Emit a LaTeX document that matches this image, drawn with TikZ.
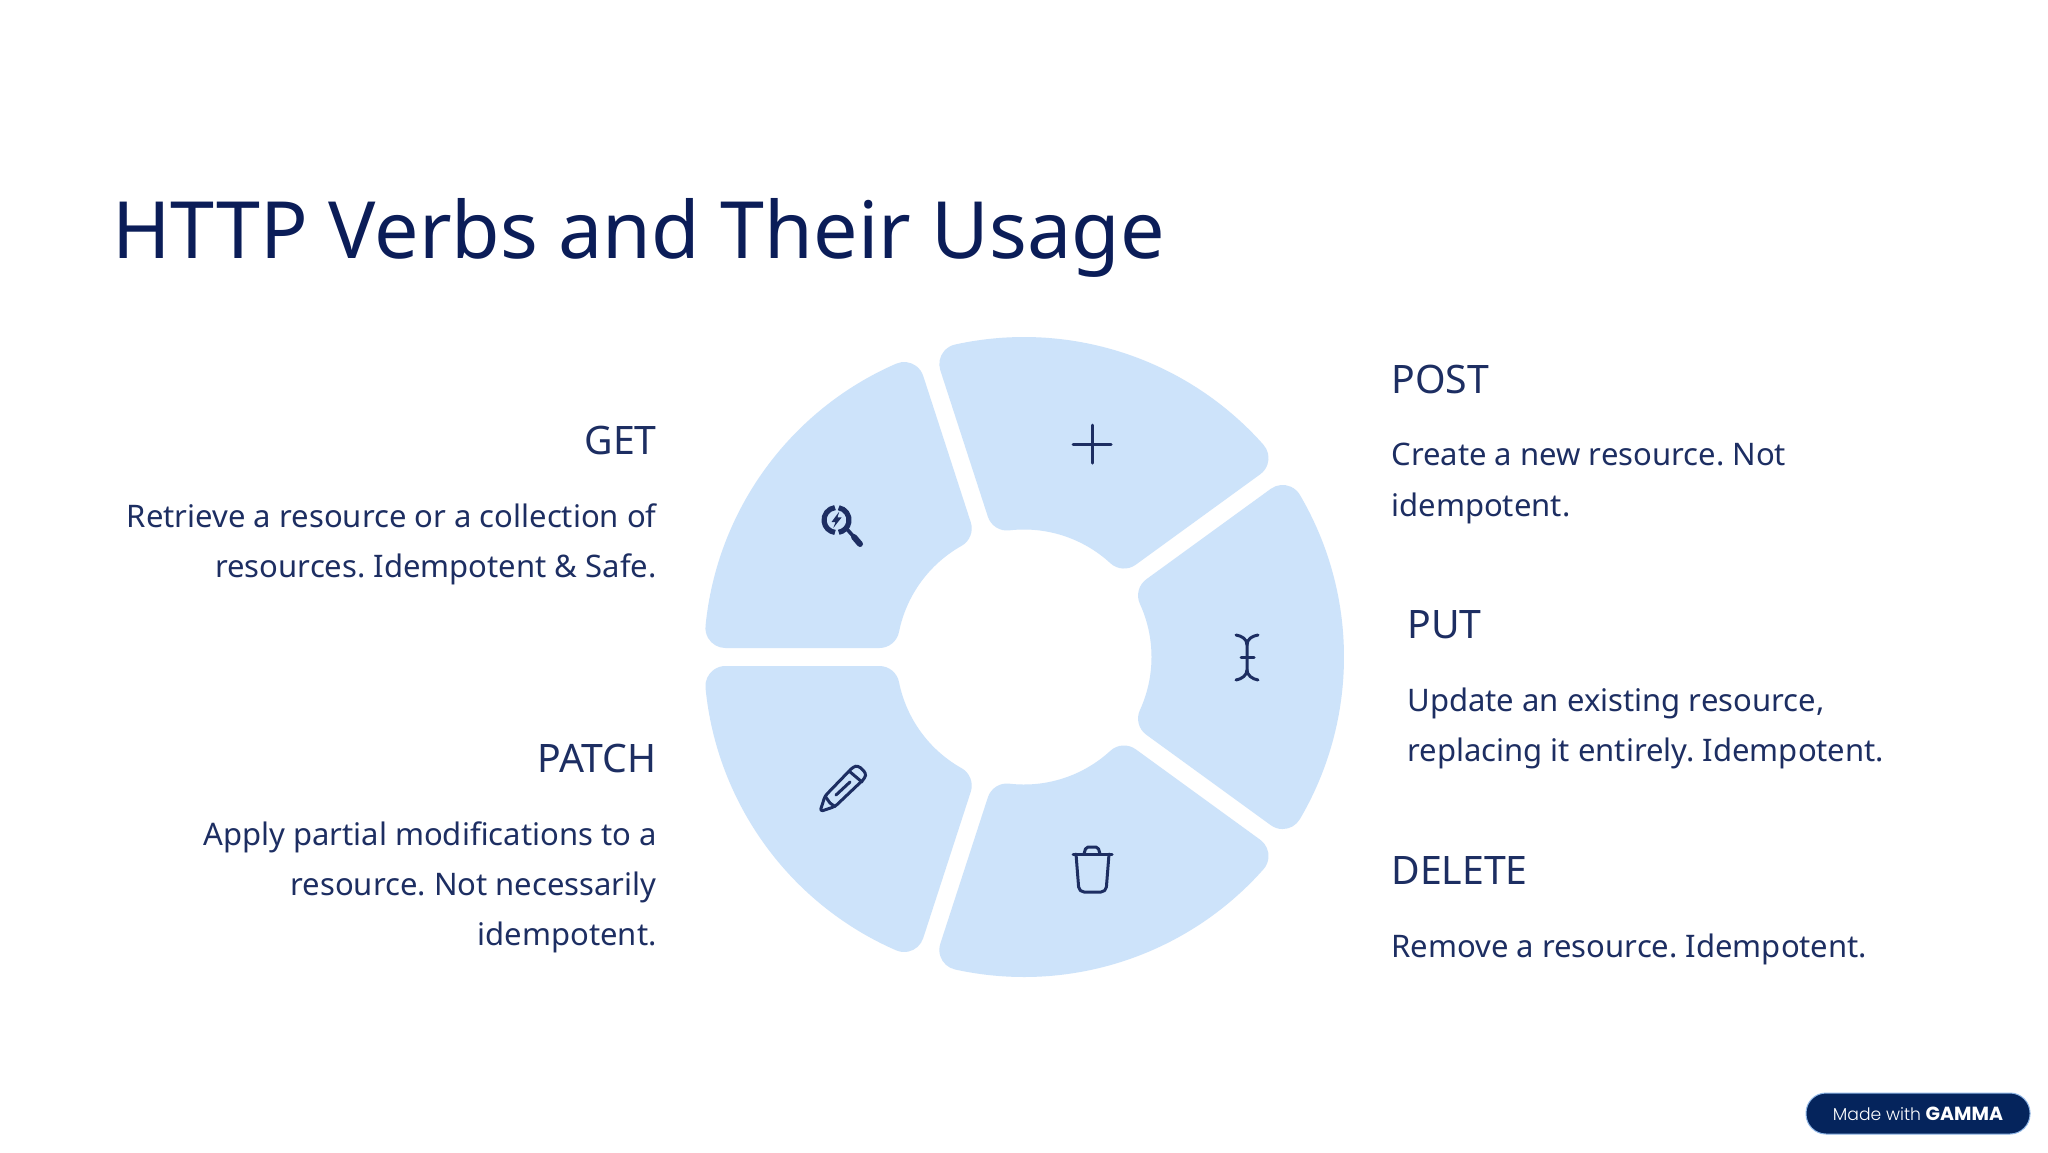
\documentclass[tikz,border=0pt]{standalone}
\usepackage{fontspec}
\setmainfont{Noto Sans}
\newfontfamily\badgefont[UprightFont=* Light, BoldFont=* Bold]{Poppins}

\definecolor{wedgeblue}{HTML}{CDE3FA}
\definecolor{titlenavy}{HTML}{0B1D58}
\definecolor{textnavy}{HTML}{1D2E62}
\definecolor{badgenavy}{HTML}{05245C}
\definecolor{badgeedge}{HTML}{8FB6E6}

% Wedge geometry, in pixels of the slide
\pgfmathsetmacro\wedgeR{320}
\pgfmathsetmacro\wedgeIn{127.5}
\pgfmathsetmacro\wedgeGap{9}
\pgfmathsetmacro\cornerOut{20}
\pgfmathsetmacro\cornerIn{20}
\pgfmathsetmacro\outT{10*sqrt(((\wedgeR-\cornerOut)/10)^2-((\wedgeGap+\cornerOut)/10)^2)}
\pgfmathsetmacro\outA{36-atan2(\wedgeGap+\cornerOut,\outT)}
\pgfmathsetmacro\outB{36-atan2(\wedgeGap,\outT)}
\pgfmathsetmacro\outL{veclen(\wedgeGap,\outT)}
\pgfmathsetmacro\inT{10*sqrt(((\wedgeIn+\cornerIn)/10)^2-((\wedgeGap+\cornerIn)/10)^2)}
\pgfmathsetmacro\inA{36-atan2(\wedgeGap+\cornerIn,\inT)}
\pgfmathsetmacro\inB{36-atan2(\wedgeGap,\inT)}
\pgfmathsetmacro\inL{veclen(\wedgeGap,\inT)}

\newcommand{\verbwedge}[1]{%
  \fill[wedgeblue, shift={(1024,657)}, rotate=#1]
    (-\outA:\wedgeR) arc[start angle=-\outA, end angle=\outA, radius=\wedgeR]
    arc[start angle=\outA, end angle=126, radius=\cornerOut]
    -- (\inB:\inL)
    arc[start angle=126, end angle=180+\inA, radius=\cornerIn]
    arc[start angle=\inA, end angle=-\inA, radius=\wedgeIn]
    arc[start angle=180-\inA, end angle=234, radius=\cornerIn]
    -- (-\outB:\outL)
    arc[start angle=234, end angle=360-\outA, radius=\cornerOut]
    -- cycle;}

\tikzset{
  verbname/.style={text=textnavy, inner sep=0pt, font=\fontsize{19.6}{25}\selectfont},
  verbtext/.style={text=textnavy, inner sep=0pt, font=\frenchspacing\fontsize{15.52}{25.2}\selectfont},
  iconline/.style={draw=textnavy, line width=1.5pt, line cap=round, line join=round},
}

\begin{document}
\begin{tikzpicture}[x=0.5pt, y=-0.5pt]
    \useasboundingbox[fill=white] (0,0) rectangle (2048,1152);

    % Title
    \node[anchor=base west, inner sep=0pt, text=titlenavy, font=\fontsize{39.5}{46}\selectfont] (title) at (112,258) {HTTP Verbs and Their Usage};

    % The five wedges of the ring
    \foreach \ang in {144,72,0,-72,-144} {
        \verbwedge{\ang}
    }

    % Left column
    \node[verbname, anchor=base east] (getname) at (657,454) {GET};
    \node[verbtext, anchor=north east, align=right] (gettext) at (657,503) {Retrieve a resource or a collection of\\resources. Idempotent \& Safe.};
    \node[verbname, anchor=base east] (patchname) at (657,772) {PATCH};
    \node[verbtext, anchor=north east, align=right] (patchtext) at (657,821) {Apply partial modifications to a\\resource. Not necessarily\\idempotent.};

    % Right column
    \node[verbname, anchor=base west] (postname) at (1391,393) {POST};
    \node[verbtext, anchor=north west, align=left] (posttext) at (1391,443) {Create a new resource. Not\\idempotent.};
    \node[verbname, anchor=base west] (putname) at (1407,638) {PUT};
    \node[verbtext, anchor=north west, align=left] (puttext) at (1407,687) {Update an existing resource,\\replacing it entirely. Idempotent.};
    \node[verbname, anchor=base west] (deletename) at (1391,884) {DELETE};
    \node[verbtext, anchor=north west, align=left] (deletetext) at (1391,933) {Remove a resource. Idempotent.};

    % Plus icon
    \draw[iconline] (1073,444) -- (1111,444);
    \draw[iconline] (1092,425) -- (1092,463);

    % Text cursor icon
    \draw[iconline] (1236,635) .. controls (1242,636) and (1247,639) .. (1247,645) -- (1247,670) .. controls (1247,675) and (1242,679) .. (1236,680);
    \draw[iconline] (1258,635) .. controls (1252,636) and (1247,639) .. (1247,645);
    \draw[iconline] (1247,670) .. controls (1247,675) and (1252,679) .. (1258,680);
    \draw[iconline] (1241,657) -- (1254,657);

    % Trash icon
    \draw[iconline] (1073,854) -- (1112,854);
    \draw[iconline, rounded corners=1pt] (1084,854) -- (1086,847) -- (1098,847) -- (1100,854);
    \draw[iconline, rounded corners=2.5pt] (1076,854) -- (1079,892) -- (1106,892) -- (1109,854);

    % Pencil icon
    \draw[iconline, rounded corners=1.5pt] (820,811.5) -- (825,796) -- (853,767) -- (858,765.5) -- (866,773) -- (865,778) -- (835,806.5) -- cycle;
    \draw[iconline] (849,771) -- (862,782);
    \draw[iconline] (836,795) -- (850,782);
    \draw[iconline] (825,796) -- (830,803) -- (835,806.5);

    % Magnifier icon
    \draw[iconline, line width=2.6pt, line cap=butt] (835,507.6) arc[start angle=-97, end angle=-263, radius=12.5];
    \draw[iconline, line width=2.6pt, line cap=butt] (838.7,507.7) arc[start angle=-80, end angle=80, radius=12.5];
    \draw[iconline, line width=1.8pt] (846,528) -- (854,537);
    \draw[iconline, line width=3pt] (854,537) -- (860,544);
    \fill[textnavy] (839.3,511.5) -- (831.5,522) -- (835.5,522) -- (833.3,528) -- (841.7,517.3) -- (837.5,517.3) -- cycle;

    % Badge
    \node[draw=badgeedge, line width=0.5pt, fill=badgenavy, rounded corners=10pt, minimum width=112pt, minimum height=20.5pt, inner sep=0pt, text=white, font=\badgefont\fontsize{8.6}{11}\selectfont] (badge) at (1918,1113.5) {Made with {\bfseries\fontsize{9.5}{11}\selectfont GAMMA}};
\end{tikzpicture}
\end{document}
